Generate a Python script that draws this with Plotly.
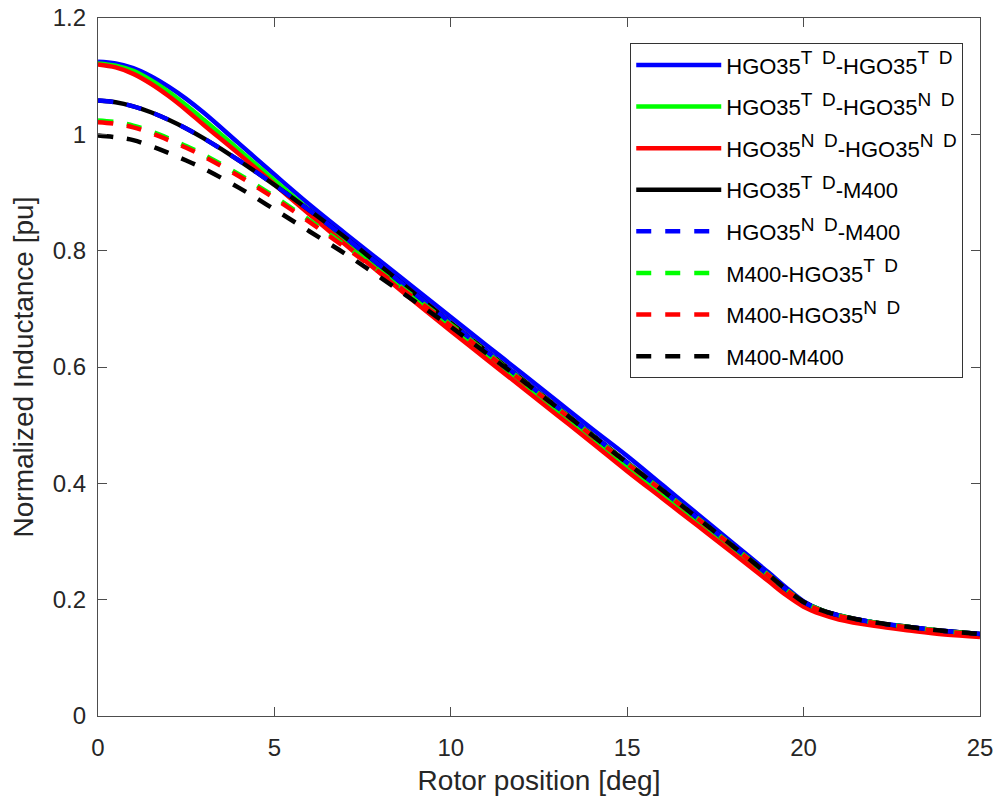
import plotly.graph_objects as go

x_deg = [0, 0.5, 1, 1.5, 2, 2.5, 3, 4, 5, 6, 7, 8, 9, 10, 11, 12, 13, 14, 15, 16, 17, 18, 19,
         19.5, 20, 20.5, 21, 22, 23, 24, 25]

blue_solid = [1.125, 1.122, 1.114, 1.100, 1.082, 1.061, 1.037, 0.984, 0.931, 0.879, 0.830,
              0.782, 0.734, 0.686, 0.638, 0.590, 0.542, 0.494, 0.447, 0.397, 0.347, 0.297,
              0.247, 0.221, 0.197, 0.182, 0.173, 0.161, 0.153, 0.146, 0.141]
green_solid = [1.122, 1.118, 1.109, 1.093, 1.073, 1.050, 1.025, 0.973, 0.921, 0.869, 0.818,
               0.768, 0.718, 0.668, 0.620, 0.572, 0.524, 0.476, 0.427, 0.379, 0.331, 0.283,
               0.236, 0.212, 0.191, 0.178, 0.169, 0.158, 0.150, 0.143, 0.139]
red_solid = [1.120, 1.115, 1.104, 1.087, 1.066, 1.042, 1.016, 0.966, 0.914, 0.862, 0.811,
             0.761, 0.711, 0.662, 0.614, 0.566, 0.518, 0.470, 0.421, 0.374, 0.327, 0.280,
             0.232, 0.208, 0.188, 0.175, 0.166, 0.155, 0.147, 0.140, 0.136]
black_solid = [1.058, 1.055, 1.048, 1.038, 1.025, 1.010, 0.993, 0.955, 0.913, 0.869, 0.823,
               0.774, 0.725, 0.676, 0.628, 0.580, 0.532, 0.484, 0.436, 0.388, 0.340, 0.292,
               0.243, 0.218, 0.196, 0.182, 0.173, 0.161, 0.153, 0.146, 0.141]
blue_dashed = [1.058, 1.055, 1.048, 1.038, 1.025, 1.010, 0.993, 0.955, 0.913, 0.869, 0.823,
               0.774, 0.725, 0.676, 0.628, 0.580, 0.532, 0.484, 0.436, 0.388, 0.340, 0.292,
               0.243, 0.218, 0.196, 0.182, 0.173, 0.161, 0.153, 0.146, 0.141]
green_dashed = [1.024, 1.021, 1.015, 1.005, 0.993, 0.980, 0.965, 0.931, 0.893, 0.852, 0.809,
                0.764, 0.719, 0.673, 0.626, 0.578, 0.531, 0.483, 0.435, 0.388, 0.340, 0.292,
                0.243, 0.218, 0.196, 0.182, 0.173, 0.161, 0.153, 0.146, 0.141]
red_dashed = [1.021, 1.018, 1.012, 1.002, 0.990, 0.977, 0.962, 0.928, 0.890, 0.849, 0.806,
              0.762, 0.717, 0.671, 0.624, 0.577, 0.530, 0.482, 0.434, 0.387, 0.339, 0.291,
              0.242, 0.217, 0.195, 0.181, 0.172, 0.160, 0.152, 0.145, 0.140]
black_dashed = [0.998, 0.995, 0.990, 0.980, 0.968, 0.955, 0.941, 0.908, 0.871, 0.833, 0.795,
                0.754, 0.712, 0.669, 0.624, 0.578, 0.531, 0.483, 0.435, 0.388, 0.340, 0.292,
                0.243, 0.218, 0.196, 0.182, 0.173, 0.161, 0.153, 0.146, 0.141]

SUP_TD = "<sup><span style='font-size:19px'>T\u2002D</span></sup>"
SUP_ND = "<sup><span style='font-size:19px'>N\u2002D</span></sup>"

series = [
    ("HGO35" + SUP_TD + "-HGO35" + SUP_TD, blue_solid, "#0000FF", "solid"),
    ("HGO35" + SUP_TD + "-HGO35" + SUP_ND, green_solid, "#00FF00", "solid"),
    ("HGO35" + SUP_ND + "-HGO35" + SUP_ND, red_solid, "#FF0000", "solid"),
    ("HGO35" + SUP_TD + "-M400", black_solid, "#000000", "solid"),
    ("HGO35" + SUP_ND + "-M400", blue_dashed, "#0000FF", "15px,14px"),
    ("M400-HGO35" + SUP_TD, green_dashed, "#00FF00", "15px,14px"),
    ("M400-HGO35" + SUP_ND, red_dashed, "#FF0000", "15px,14px"),
    ("M400-M400", black_dashed, "#000000", "15px,14px"),
]

x_ticks = [0, 5, 10, 15, 20, 25]
y_ticks = [0, 0.2, 0.4, 0.6, 0.8, 1.0, 1.2]
y_tick_text = ["0", "0.2", "0.4", "0.6", "0.8", "1", "1.2"]

fig = go.Figure()
for i, (name, vals, color, dash) in enumerate(series):
    fig.add_trace(go.Scatter(
        x=x_deg, y=vals, mode="lines", name=name,
        legendgroup=f"g{i}",
        line=dict(color=color, width=4.5, dash=dash, shape="spline", smoothing=1.0),
    ))

axis_color = "#4d4d4d"
text_color = "#262626"
fig.update_layout(
    width=994, height=803,
    margin=dict(l=98, r=14, t=18, b=87, autoexpand=False),
    paper_bgcolor="white", plot_bgcolor="white",
    font=dict(family="Liberation Sans, Arial, sans-serif", color=text_color, size=24),
    showlegend=True,
    legend=dict(
        x=0.981, y=0.964, xanchor="right", yanchor="top",
        bgcolor="white", bordercolor="#333333", borderwidth=1,
        font=dict(size=22, color="#000000"),
        itemwidth=85, tracegroupgap=10,
    ),
    xaxis=dict(
        range=[0, 25], tickvals=x_ticks, ticktext=[str(v) for v in x_ticks],
        showgrid=False, zeroline=False, showline=True, mirror="ticks",
        linecolor=axis_color, linewidth=1.2, ticks="inside", ticklen=9,
        tickcolor=axis_color, tickfont=dict(size=24, color=text_color),
        ticklabelstandoff=10,
        title=dict(text="Rotor position [deg]", font=dict(size=28, color=text_color), standoff=10),
    ),
    yaxis=dict(
        range=[0, 1.2], tickvals=y_ticks, ticktext=y_tick_text,
        showgrid=False, zeroline=False, showline=True, mirror="ticks",
        linecolor=axis_color, linewidth=1.2, ticks="inside", ticklen=9,
        tickcolor=axis_color, tickfont=dict(size=24, color=text_color),
        ticklabelstandoff=6,
        title=dict(text="Normalized Inductance [pu]", font=dict(size=28, color=text_color), standoff=10),
    ),
)

fig.write_html("out.html")
